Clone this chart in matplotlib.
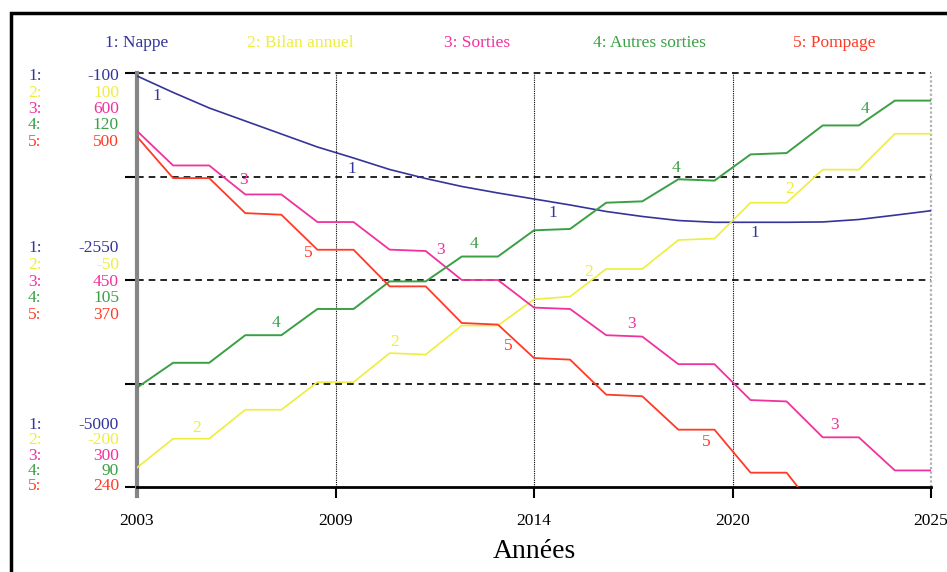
import matplotlib
matplotlib.use("Agg")
import matplotlib.pyplot as plt
import numpy as np
from matplotlib.patches import Rectangle

plt.rcParams["font.family"] = ["Liberation Serif", "DejaVu Serif"]

# ---------------------------------------------------------------------------
# Data (yearly values)
# ---------------------------------------------------------------------------
years = list(range(2003, 2026))

nappe = [-135, -330, -514, -668, -822, -976, -1106, -1242, -1349, -1443, -1520,
         -1591, -1662, -1739, -1798, -1846, -1867, -1867, -1867, -1863, -1834,
         -1783, -1730]
bilan = [-186, -165, -165, -144, -144, -124, -124, -103, -104, -83, -83, -64,
         -62, -42, -42, -21, -20, 6, 6, 30, 30, 56, 56]
sorties = [558, 533, 533, 512, 512, 492, 492, 472, 471, 450, 450, 430, 429,
           410, 409, 389, 389, 363, 362, 336, 336, 312, 312]
autres = [97.2, 99.0, 99.0, 101.0, 101.0, 102.9, 102.9, 104.9, 104.9, 106.7,
          106.7, 108.6, 108.7, 110.6, 110.7, 112.3, 112.2, 114.1, 114.2, 116.2,
          116.2, 118.0, 118.0]
pompage = [460, 434, 434, 412, 411, 389, 389, 366, 366, 343, 342, 321, 320,
           298, 297, 276, 276, 249, 249, 220, 220, 194, 194]

names = ["Nappe", "Bilan annuel", "Sorties", "Autres sorties", "Pompage"]
series = [nappe, bilan, sorties, autres, pompage]
scale_lo = [-5000, -200, 300, 90, 240]
scale_hi = [-100, 100, 600, 120, 500]

tick_pos = [2003, 2008.5, 2014, 2019.5, 2025]
tick_lab = ["2003", "2009", "2014", "2020", "2025"]

# ---------------------------------------------------------------------------
# Styles
# ---------------------------------------------------------------------------
colours = ["#34349a", "#eeee3c", "#f0329e", "#3aa045", "#ff3a26"]
widths = [1.2, 1.2, 1.3, 1.4, 1.3]
# where the little series numbers sit along each curve (year, offset in pt)
num_years = [
    [2003.55, 2008.96, 2014.53, 2020.12],
    [2004.66, 2010.15, 2015.50, 2021.09],
    [2005.94, 2011.40, 2016.69, 2022.34],
    [2006.85, 2012.34, 2017.93, 2023.17],
    [2007.74, 2013.28, 2018.77],
]
num_dy = [-8, 8, 9, 9, -9]
FS = 12.5

W, H = 947, 572
fig = plt.figure(figsize=(W / 100, H / 100), dpi=100)

# outer frame (runs off the right and bottom of the picture)
fig.add_artist(Rectangle((11 / W, -0.2), 1.2, 1.2 - 13 / H,
                         transform=fig.transFigure, fill=False,
                         ec="black", lw=2.5))

ax = fig.add_axes([137 / W, 85 / H, 794 / W, 414 / H])
ax.set_xlim(2003, 2025)
ax.set_ylim(0, 1)

for q in (0.25, 0.5, 0.75, 1.0):
    ax.axhline(q, color="black", ls=(0, (4, 3)), lw=1.2, clip_on=False, zorder=1)
for xv in tick_pos[1:-1]:
    ax.axvline(xv, color="black", ls=(0, (1, 1)), lw=0.8, zorder=1)
ax.axvline(2025, color="#b0b0b0", ls=(0, (1, 1)), lw=1.6, clip_on=False, zorder=1)

for s in ("top", "right"):
    ax.spines[s].set_visible(False)
ax.spines["left"].set_color("#858585")
ax.spines["left"].set_linewidth(3)
ax.spines["left"].set_bounds(-0.022, 1)
ax.spines["bottom"].set_color("black")
ax.spines["bottom"].set_linewidth(2)

ax.set_yticks([0, 0.25, 0.5, 0.75, 1.0])
ax.tick_params(axis="y", length=9, width=1.5, color="black", labelleft=False)
ax.set_xticks(tick_pos)
ax.set_xticklabels(tick_lab)
ax.tick_params(axis="x", length=8, width=1.5, color="black", pad=11, labelsize=FS)

# one hidden axis per series, each with its own scale
for i, vals in enumerate(series):
    tw = ax.twinx()
    tw.set_ylim(scale_lo[i], scale_hi[i])
    tw.axis("off")
    tw.plot(years, vals, color=colours[i], lw=widths[i], zorder=3)
    for yr in num_years[i]:
        tw.annotate(str(i + 1), (yr, np.interp(yr, years, vals)),
                    xytext=(0, num_dy[i]), textcoords="offset points",
                    ha="center", va="center", color=colours[i], fontsize=FS)

# legend row at the top
legend_x = [105, 247, 444, 593, 793]
for i, name in enumerate(names):
    fig.text(legend_x[i] / W, 1 - 43 / H, f"{i + 1}: {name}", color=colours[i],
             fontsize=FS, ha="left", va="center")

# scale labels at top / middle / bottom of the left axis
groups = [
    (76.5, 16.3, scale_hi),
    (248, 16.8, [(lo + hi) / 2 for lo, hi in zip(scale_lo, scale_hi)]),
    (425, 15.3, scale_lo),
]
for y0, step, vals in groups:
    for i, v in enumerate(vals):
        y = 1 - (y0 + i * step) / H
        fig.text(28 / W, y, f"{i + 1}:", color=colours[i], fontsize=FS,
                 ha="left", va="center")
        fig.text(119 / W, y, f"{v:g}", color=colours[i], fontsize=FS,
                 ha="right", va="center")

fig.text(534 / W, 1 - 551 / H, "Années", fontsize=20, ha="center", va="center")

fig.savefig("out.png", dpi=100)
